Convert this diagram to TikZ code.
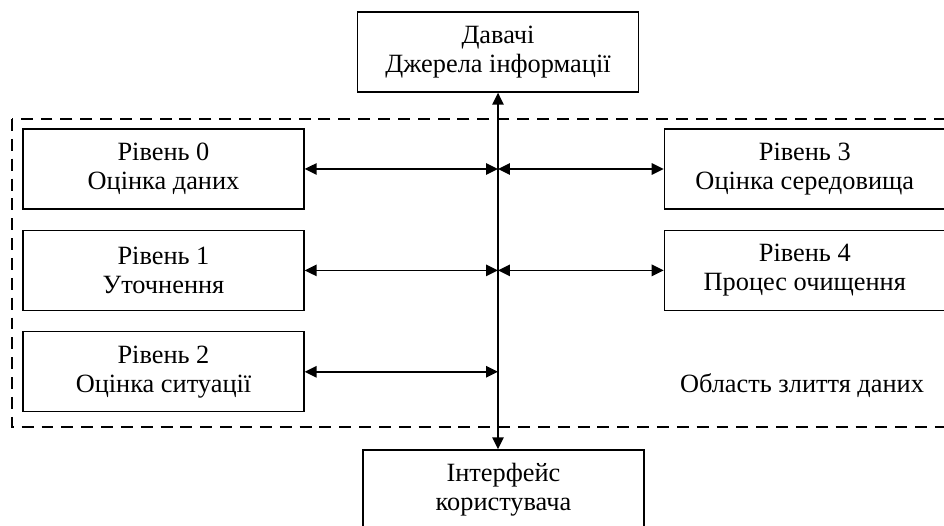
\documentclass[tikz,border=0pt]{standalone}
\usepackage{fontspec}
\setmainfont{Liberation Serif}
\usetikzlibrary{arrows.meta, positioning}
\tikzset{
  levelbox/.style={
    rectangle,
    draw,
    line width=0.8pt,
    minimum width=5.62cm,
    minimum height=1.6cm,
    font=\fontsize{15}{16.5}\selectfont,
    align=center
  },
  link/.style={<->, line width=0.9pt},
  fusion/.style={line width=1.6pt, dash pattern=on 6.8pt off 4.5pt}
}

\begin{document}
\begin{tikzpicture}[x=0.02cm, y=-0.02cm, >={Triangle[length=6.8pt,width=6.5pt]}, node distance=0.4cm]
        \useasboundingbox (0,0) rectangle (944,526);

        % Data fusion area
        \draw[fusion] (12,119) rectangle (975,427);

        % Define the nodes
        \node[levelbox] (src)  at (498,52) {Давачі\\Джерела інформації};
        \node[levelbox] (lvl0) at (163.5,169) {Рівень 0\\Оцінка даних};
        \node[levelbox] (lvl1) [below=of lvl0] {Рівень 1\\Уточнення};
        \node[levelbox] (lvl2) [below=of lvl1] {Рівень 2\\Оцінка ситуації};
        \node[levelbox] (lvl3) [right=7.18cm of lvl0] {Рівень 3\\Оцінка середовища};
        \node[levelbox] (lvl4) [below=of lvl3] {Рівень 4\\Процес очищення};
        \node[levelbox] (user) at (503.5,490) {Інтерфейс\\користувача};

        % label of the area
        \node[font=\fontsize{15}{16.5}\selectfont] (area) at (802,386) {Область злиття даних};

        % Arrows to the bus
        \draw[link] (src.south) -- (src.south |- user.north);
        \draw[link] (lvl0.east) -- (lvl0.east -| src.south);
        \draw[link] (lvl1.east) -- (lvl1.east -| src.south);
        \draw[link] (lvl2.east) -- (lvl2.east -| src.south);
        \draw[link] (lvl3.west -| src.south) -- (lvl3.west);
        \draw[link] (lvl4.west -| src.south) -- (lvl4.west);
\end{tikzpicture}
\end{document}
